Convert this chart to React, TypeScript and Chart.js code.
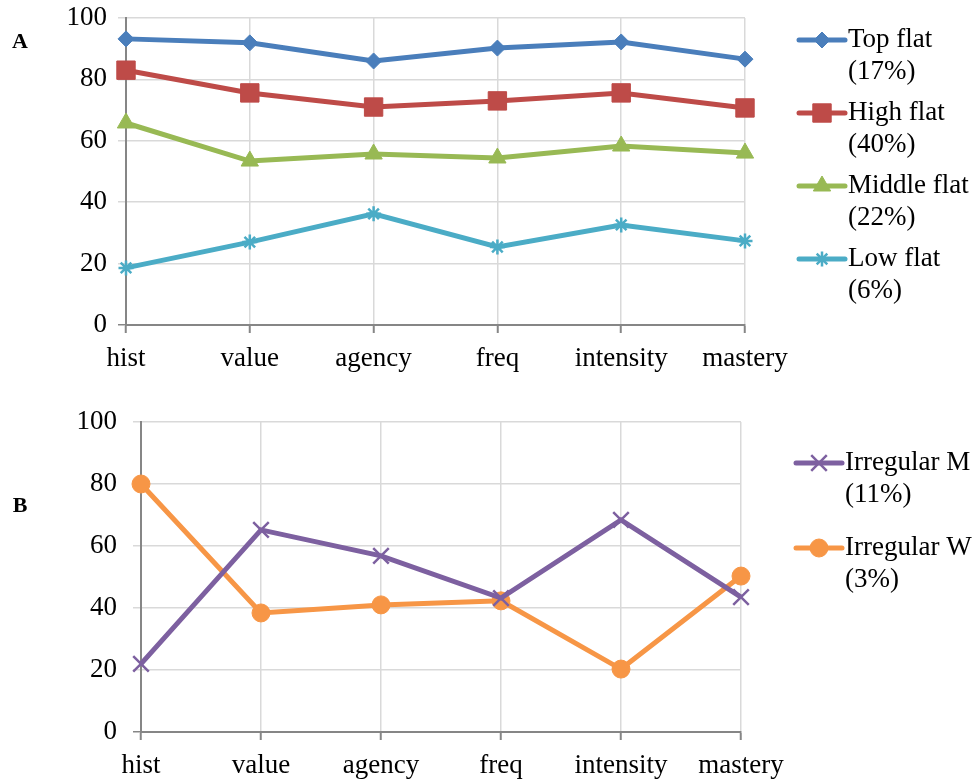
import React, { useEffect, useRef } from 'react';
import { Chart, registerables } from 'chart.js';
import { drawPoint } from 'chart.js/helpers';

Chart.register(...registerables);

const categories = ['hist', 'value', 'agency', 'freq', 'intensity', 'mastery'];
const topFlat = [93.2, 91.9, 86.0, 90.2, 92.2, 86.6];
const highFlat = [83.0, 75.6, 71.0, 73.0, 75.6, 70.7];
const middleFlat = [65.8, 53.4, 55.7, 54.4, 58.3, 56.0];
const lowFlat = [18.6, 27.0, 36.2, 25.4, 32.6, 27.4];
const irregularM = [22.0, 65.2, 56.8, 43.2, 68.4, 43.5];
const irregularW = [80.0, 38.4, 41.0, 42.3, 20.3, 50.3];
const legendA = [['Top flat', '(17%)'], ['High flat', '(40%)'], ['Middle flat', '(22%)'], ['Low flat', '(6%)']];
const legendB = [['Irregular M', '(11%)'], ['Irregular W', '(3%)']];
const yMin = 0;
const yMax = 100;
const yStep = 20;

const FONT = '"Liberation Serif", "Times New Roman", serif';
const GRID = '#d9d9d9';
const AXIS = '#868686';
const FS = 27;

type PanelOpts = {
  label: string;
  labelX: number;
  labelY: number;
  yWidth: number;
  xHeight: number;
  padTop: number;
  padRight: number;
  tickPad: number;
  legendTop: number;
  legendGap: number;
  legendX1: number;
  legendX2: number;
  legendTextX: number;
  legendLines: string[][];
};

function makeDataset(label: string, data: number[], color: string, style: string, radius: number, bw: number) {
  return {
    label,
    data,
    borderColor: color,
    backgroundColor: color,
    borderWidth: 5,
    pointStyle: style,
    pointRadius: radius,
    pointHoverRadius: radius,
    pointBackgroundColor: color,
    pointBorderColor: color,
    pointBorderWidth: bw,
    tension: 0,
  };
}

function makeConfig(datasets: any[], o: PanelOpts): any {
  const legendPlugin = {
    id: 'customLegend',
    afterDraw(chart: any) {
      const ctx = chart.ctx;
      ctx.save();
      chart.data.datasets.forEach((ds: any, i: number) => {
        const y = o.legendTop + i * o.legendGap;
        ctx.strokeStyle = ds.borderColor;
        ctx.lineWidth = 5;
        ctx.lineCap = 'round';
        ctx.beginPath();
        ctx.moveTo(o.legendX1, y);
        ctx.lineTo(o.legendX2, y);
        ctx.stroke();
        ctx.lineCap = 'butt';
        ctx.fillStyle = ds.pointBackgroundColor;
        ctx.strokeStyle = ds.pointBorderColor;
        ctx.lineWidth = ds.pointBorderWidth;
        drawPoint(ctx, { pointStyle: ds.pointStyle, radius: ds.pointRadius, borderWidth: ds.pointBorderWidth, rotation: 0 } as any, (o.legendX1 + o.legendX2) / 2, y);
        ctx.fillStyle = '#000';
        ctx.font = `${FS}px ${FONT}`;
        ctx.textAlign = 'left';
        ctx.textBaseline = 'middle';
        const lines = o.legendLines[i];
        lines.forEach((t, j) => ctx.fillText(t, o.legendTextX, y + j * 32));
      });
      ctx.fillStyle = '#000';
      ctx.font = `bold 22px ${FONT}`;
      ctx.textAlign = 'center';
      ctx.textBaseline = 'middle';
      ctx.fillText(o.label, o.labelX, o.labelY);
      ctx.restore();
    },
  };
  return {
    type: 'line',
    data: { labels: categories, datasets },
    options: {
      responsive: false,
      animation: false,
      layout: { padding: { left: 0, top: o.padTop, right: o.padRight, bottom: 0 } },
      plugins: { legend: { display: false }, tooltip: { enabled: false } },
      scales: {
        x: {
          offset: false,
          afterFit: (s: any) => { s.height = o.xHeight; },
          grid: { color: GRID, lineWidth: 1.5, tickLength: 8, tickColor: AXIS, tickWidth: 2 },
          border: { color: AXIS, width: 2 },
          ticks: { color: '#000', font: { family: FONT, size: FS }, padding: 10, maxRotation: 0, autoSkip: false },
        },
        y: {
          min: yMin,
          max: yMax,
          afterFit: (s: any) => { s.width = o.yWidth; s.paddingTop = 0; s.paddingBottom = 0; },
          grid: {
            color: GRID,
            lineWidth: 1.5,
            tickLength: 8,
            tickColor: (c: any) => (c.tick && c.tick.value === 0 ? AXIS : GRID),
          },
          border: { color: AXIS, width: 2 },
          ticks: { stepSize: yStep, color: '#000', font: { family: FONT, size: FS }, padding: o.tickPad },
        },
      },
    },
    plugins: [legendPlugin],
  };
}

function Panel({ datasets, opts, top }: { datasets: any[]; opts: PanelOpts; top: number }) {
  const ref = useRef<HTMLCanvasElement>(null);
  useEffect(() => {
    if (!ref.current) return;
    const chart = new Chart(ref.current, makeConfig(datasets, opts));
    return () => chart.destroy();
  }, []);
  return (
    <canvas
      ref={ref}
      width={972}
      height={390}
      style={{ position: 'absolute', left: 0, top, width: 972, height: 390 }}
    />
  );
}

export default function App() {
  useEffect(() => {
    document.body.style.margin = '0';
  }, []);
  const dsA = [
    makeDataset('Top flat (17%)', topFlat, '#4A7EBB', 'rectRot', 8, 1),
    makeDataset('High flat (40%)', highFlat, '#BE4B48', 'rect', 13, 1),
    makeDataset('Middle flat (22%)', middleFlat, '#98B954', 'triangle', 10, 1),
    makeDataset('Low flat (6%)', lowFlat, '#4BACC6', 'star', 7.5, 2.5),
  ];
  const dsB = [
    makeDataset('Irregular M (11%)', irregularM, '#7D60A0', 'crossRot', 11, 2.5),
    makeDataset('Irregular W (3%)', irregularW, '#F79646', 'circle', 9, 1),
  ];
  const optsA: PanelOpts = {
    label: 'A', labelX: 20, labelY: 42,
    yWidth: 126, xHeight: 65, padTop: 18, padRight: 227, tickPad: 11,
    legendTop: 40, legendGap: 73, legendX1: 799, legendX2: 845, legendTextX: 848,
    legendLines: legendA,
  };
  const optsB: PanelOpts = {
    label: 'B', labelX: 20, labelY: 116,
    yWidth: 141, xHeight: 48, padTop: 32, padRight: 231, tickPad: 16,
    legendTop: 73, legendGap: 85, legendX1: 796, legendX2: 842, legendTextX: 845,
    legendLines: legendB,
  };
  return (
    <div style={{ position: 'relative', width: 972, height: 780, background: '#fff' }}>
      <Panel datasets={dsA} opts={optsA} top={0} />
      <Panel datasets={dsB} opts={optsB} top={390} />
    </div>
  );
}
